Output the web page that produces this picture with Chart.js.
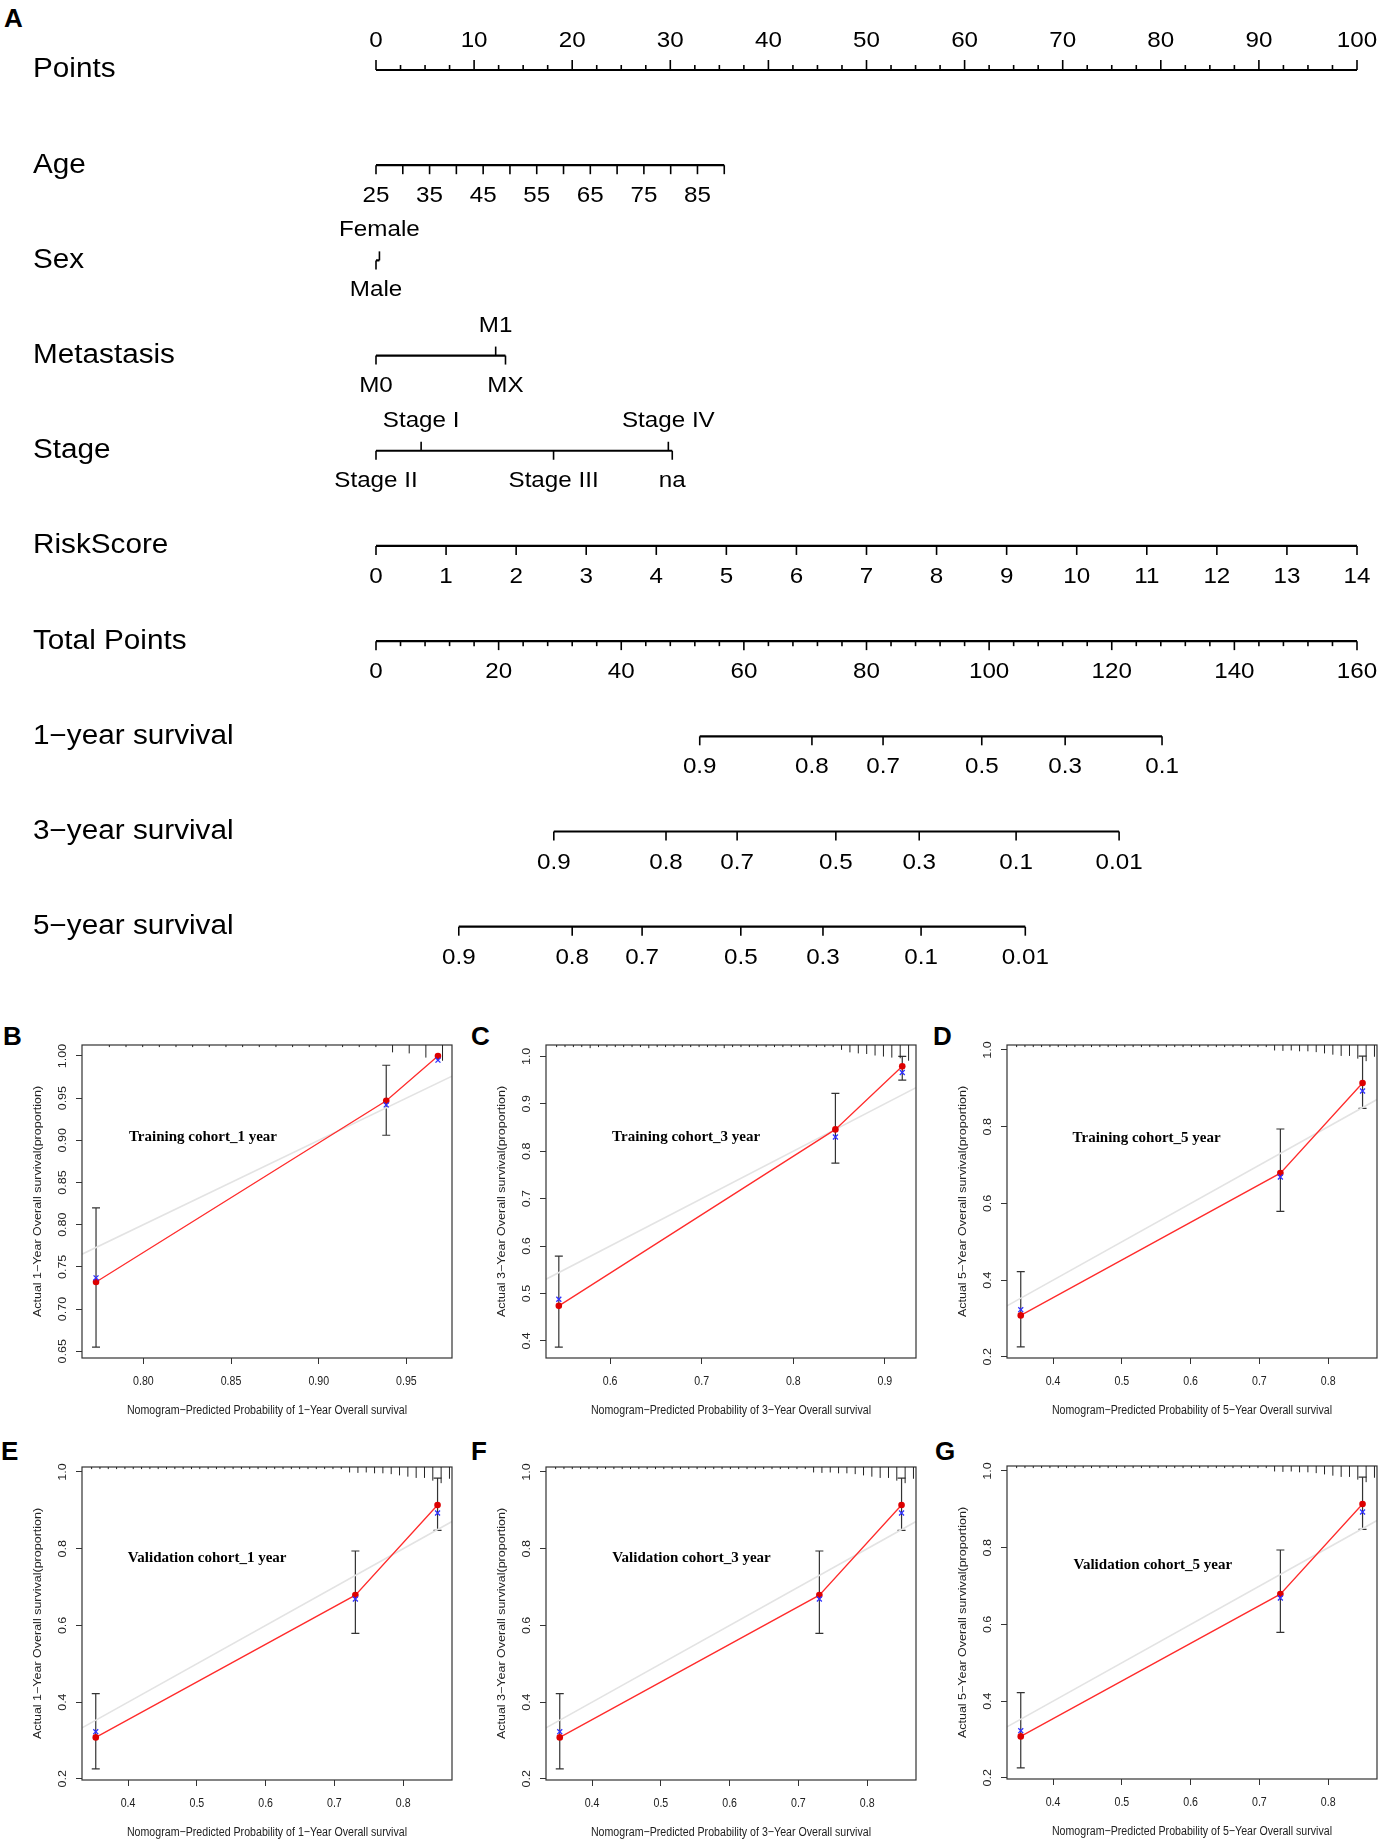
<!DOCTYPE html>
<html>
<head>
<meta charset="utf-8">
<script src="https://cdn.jsdelivr.net/npm/chart.js@4.4.1/dist/chart.umd.min.js"></script>
<style>
html, body { margin: 0; padding: 0; background: #fff; width: 1384px; height: 1845px; overflow: hidden; position: relative; }
canvas { position: absolute; }
.tag { position: absolute; font-family: "Liberation Sans", Arial, sans-serif; font-weight: bold; font-size: 26px; line-height: 26px; color: #000; }
</style>
</head>
<body>
<div class="tag" style="left:4px;top:5px">A</div>
<div class="tag" style="left:3px;top:1023px">B</div>
<div class="tag" style="left:471px;top:1023px">C</div>
<div class="tag" style="left:933px;top:1023px">D</div>
<div class="tag" style="left:1px;top:1438px">E</div>
<div class="tag" style="left:471px;top:1438px">F</div>
<div class="tag" style="left:935px;top:1438px">G</div>

<script>
const SANS = '"Liberation Sans", Arial, sans-serif';
const SERIF = '"Liberation Serif", "Times New Roman", serif';

// ---------- A: nomogram ----------
const rowNames = ['Points', 'Age', 'Sex', 'Metastasis', 'Stage', 'RiskScore', 'Total Points',
  '1\u2212year survival', '3\u2212year survival', '5\u2212year survival'];

const pointLabels = [0, 10, 20, 30, 40, 50, 60, 70, 80, 90, 100];

const ageLabels = [25, 35, 45, 55, 65, 75, 85];
const ageEnds = [25, 90];
const ageEndPoints = [0, 35.5];

const sexLevels = ['Female', 'Male'];
const sexPoints = [0.35, 0];

const metLevels = ['M0', 'M1', 'MX'];
const metPoints = [0, 12.2, 13.2];

const stageLevels = ['Stage II', 'Stage I', 'Stage III', 'Stage IV', 'na'];
const stagePoints = [0, 4.6, 18.1, 29.8, 30.2];

const riskLabels = [0, 1, 2, 3, 4, 5, 6, 7, 8, 9, 10, 11, 12, 13, 14];
const riskMaxPoints = 100;

const totalLabels = [0, 20, 40, 60, 80, 100, 120, 140, 160];

const surv1Labels = ['0.9', '0.8', '0.7', '0.5', '0.3', '0.1'];
const surv1Total = [52.8, 71.1, 82.7, 98.8, 112.4, 128.2];
const surv3Labels = ['0.9', '0.8', '0.7', '0.5', '0.3', '0.1', '0.01'];
const surv3Total = [29.0, 47.3, 58.9, 75.0, 88.6, 104.4, 121.2];
const surv5Labels = ['0.9', '0.8', '0.7', '0.5', '0.3', '0.1', '0.01'];
const surv5Total = [13.5, 32.0, 43.4, 59.5, 72.9, 88.9, 105.9];

// levels written above their axis
const aboveLabels = ['Female', 'M1', 'Stage I', 'Stage IV'];

// ---------- B-G: calibration curves ----------
// B training cohort, 1 year
const predB = [0.773, 0.9385, 0.968];
const obsB = [0.732, 0.947, 1.000];
const corrB = [0.737, 0.942, 0.995];
const loB = [0.655, 0.906, 1.000];
const hiB = [0.820, 0.989, 1.000];
const rugB = [1, 1, 1, 1, 1, 1, 1, 1, 1, 1, 1, 1, 1, 1, 1, 1, 1, 3.5, 4, 6, 7.5];

// C training cohort, 3 year
const predC = [0.544, 0.846, 0.919];
const obsC = [0.474, 0.846, 0.979];
const corrC = [0.488, 0.830, 0.966];
const loC = [0.387, 0.775, 0.950];
const hiC = [0.579, 0.922, 1.000];
const rugC = [1, 1, 1, 1, 1.5, 1, 1, 1, 1, 1, 1, 1.5, 1, 1, 1, 1, 1, 1, 1, 1, 1.5, 1, 1, 1, 1, 1, 1, 1, 1, 1, 1, 1, 1, 1,
  2.3, 3.5, 4, 4.3, 5, 5.5, 6, 6.3, 7.5];

// D training 5 year (E, F, G show the same curve)
const predD = [0.353, 0.7305, 0.850];
const obsD = [0.308, 0.679, 0.914];
const corrD = [0.323, 0.669, 0.893];
const loD = [0.226, 0.579, 0.848];
const hiD = [0.422, 0.794, 0.984];
const rugD = [1, 1, 1, 1, 1, 1, 1, 1, 1, 1, 1, 1, 1, 1, 1, 1, 1, 1, 1, 1, 1, 1, 1, 1, 1, 1, 1, 1, 1, 1, 1,
  2.6, 2.8, 2.6, 3, 3, 3.4, 4, 4.6, 5.2, 5.2, 6.5, 7.7, 5.6];

// text with a horizontal stretch, the source figure is not drawn at 1:1 aspect
function say(ctx, s, x, y, sx, rot) {
  ctx.save();
  ctx.translate(x, y);
  ctx.scale(sx || 1, 1);
  if (rot) ctx.rotate(rot);
  ctx.fillText(s, 0, 0);
  ctx.restore();
}
function mark(ctx, x, y, len) { ctx.beginPath(); ctx.moveTo(x, y); ctx.lineTo(x, y + len); ctx.stroke(); }

function ageToPts(a) {
  return ageEndPoints[0] + (a - ageEnds[0]) * (ageEndPoints[1] - ageEndPoints[0]) / (ageEnds[1] - ageEnds[0]);
}

const NX = 1.1;  // nomogram text stretch

const nomoPlugin = {
  id: 'nomo',
  afterDatasetsDraw(chart) {
    const ctx = chart.ctx, X = chart.scales.x, XT = chart.scales.xt, Y = chart.scales.y;
    const py = i => Y.getPixelForValue(i);
    ctx.save();
    ctx.strokeStyle = '#000'; ctx.fillStyle = '#000'; ctx.lineWidth = 1.6; ctx.textBaseline = 'middle';
    ctx.font = '27px ' + SANS; ctx.textAlign = 'left';
    rowNames.forEach((n, i) => say(ctx, n, 33, py(i), NX));
    ctx.font = '22px ' + SANS; ctx.textAlign = 'center';

    for (let v = 0; v <= 100; v += 2.5) mark(ctx, X.getPixelForValue(v), py(0), v % 10 === 0 ? -10 : -5);
    pointLabels.forEach(v => say(ctx, String(v), X.getPixelForValue(v), py(0) - 29, NX));

    for (let a = ageEnds[0]; a <= ageEnds[1]; a += 5) mark(ctx, X.getPixelForValue(ageToPts(a)), py(1), 9);
    ageLabels.forEach(a => say(ctx, String(a), X.getPixelForValue(ageToPts(a)), py(1) + 31, NX));

    [[2, sexLevels, sexPoints], [3, metLevels, metPoints], [4, stageLevels, stagePoints]].forEach(([row, levels, pts]) => {
      levels.forEach((lv, k) => {
        const up = aboveLabels.includes(lv);
        const px = X.getPixelForValue(pts[k]);
        mark(ctx, px, py(row), up ? -9 : 9);
        say(ctx, lv, px, py(row) + (up ? -30 : 30), NX);
      });
    });

    const rMax = riskLabels[riskLabels.length - 1];
    riskLabels.forEach(r => {
      const px = X.getPixelForValue(r * riskMaxPoints / rMax);
      mark(ctx, px, py(5), 9);
      say(ctx, String(r), px, py(5) + 31, NX);
    });

    for (let v = 0; v <= 160; v += 4) mark(ctx, XT.getPixelForValue(v), py(6), v % 20 === 0 ? 9 : 5);
    totalLabels.forEach(v => say(ctx, String(v), XT.getPixelForValue(v), py(6) + 31, NX));

    [[7, surv1Labels, surv1Total], [8, surv3Labels, surv3Total], [9, surv5Labels, surv5Total]].forEach(([row, labs, tot]) => {
      labs.forEach((l, k) => {
        const px = XT.getPixelForValue(tot[k]);
        mark(ctx, px, py(row), 9);
        say(ctx, l, px, py(row) + 31, NX);
      });
    });
    ctx.restore();
  }
};

function axisLine(row, axis, from, to) {
  return { data: [{ x: from, y: row }, { x: to, y: row }], xAxisID: axis, borderColor: '#000', borderWidth: 2.2,
    pointRadius: 0, clip: false, fill: false };
}

function makeCanvas(id, left, top, w, h) {
  const c = document.createElement('canvas');
  c.id = id; c.width = w; c.height = h;
  c.style.left = left + 'px'; c.style.top = top + 'px';
  document.body.appendChild(c);
  return c;
}

new Chart(makeCanvas('nomo', 0, 0, 1384, 990), {
  type: 'line',
  data: {
    datasets: [
      axisLine(0, 'x', 0, 100),
      axisLine(1, 'x', ageEndPoints[0], ageEndPoints[1]),
      axisLine(2, 'x', 0, Math.max(...sexPoints)),
      axisLine(3, 'x', 0, Math.max(...metPoints)),
      axisLine(4, 'x', 0, Math.max(...stagePoints)),
      axisLine(5, 'x', 0, riskMaxPoints),
      axisLine(6, 'xt', 0, totalLabels[totalLabels.length - 1]),
      axisLine(7, 'xt', Math.min(...surv1Total), Math.max(...surv1Total)),
      axisLine(8, 'xt', Math.min(...surv3Total), Math.max(...surv3Total)),
      axisLine(9, 'xt', Math.min(...surv5Total), Math.max(...surv5Total))
    ]
  },
  options: {
    responsive: false, animation: false, events: [],
    layout: { padding: { left: 376, right: 27, top: 70, bottom: 63.3 } },
    plugins: { legend: { display: false }, tooltip: { enabled: false } },
    scales: {
      x: { type: 'linear', min: 0, max: 100, display: false },
      xt: { type: 'linear', min: 0, max: 160, display: false },
      y: { type: 'linear', min: 0, max: 9, reverse: true, display: false }
    }
  },
  plugins: [nomoPlugin]
});

const CX = 0.85;  // calibration panel text stretch

function calPanel(id, boxLeft, boxTop, p) {
  const left = boxLeft - 82, top = boxTop - 25;
  const w = Math.min(462, 1384 - left), h = 420;
  const el = makeCanvas(id, left, top, w, h);
  const xy = ys => p.pred.map((x, i) => ({ x: x, y: ys[i] }));
  const gridOpt = { display: true, drawOnChartArea: false, drawTicks: true, tickLength: 6, color: '#333', lineWidth: 1 };
  const plug = {
    id: 'cal_' + id,
    beforeDatasetsDraw(chart) {
      const ctx = chart.ctx, X = chart.scales.x, Y = chart.scales.y;
      ctx.save();
      ctx.strokeStyle = '#333'; ctx.lineWidth = 1.2;
      p.pred.forEach((x, i) => {
        const px = X.getPixelForValue(x), a = Y.getPixelForValue(p.lo[i]), b = Y.getPixelForValue(p.hi[i]);
        if (Math.abs(a - b) < 1) return;
        ctx.beginPath();
        ctx.moveTo(px, a); ctx.lineTo(px, b);
        ctx.moveTo(px - 4, a); ctx.lineTo(px + 4, a);
        ctx.moveTo(px - 4, b); ctx.lineTo(px + 4, b);
        ctx.stroke();
      });
      ctx.restore();
    },
    afterDraw(chart) {
      const ctx = chart.ctx, X = chart.scales.x, Y = chart.scales.y, ca = chart.chartArea;
      ctx.save();
      ctx.strokeStyle = '#333'; ctx.lineWidth = 1.2;
      ctx.strokeRect(ca.left, ca.top, ca.right - ca.left, ca.bottom - ca.top);
      ctx.lineWidth = 1; ctx.strokeStyle = '#222';
      p.rug.forEach((n, i) => {
        const px = X.getPixelForValue(p.rugStart + i * p.rugStep);
        if (px < ca.left || px > ca.right) return;
        mark(ctx, px, ca.top, n * 2.1);
      });
      ctx.fillStyle = '#222'; ctx.font = '12.5px ' + SANS; ctx.textBaseline = 'middle'; ctx.textAlign = 'center';
      X.ticks.forEach(t => say(ctx, t.value.toFixed(p.xDec), X.getPixelForValue(t.value), ca.bottom + 24, CX));
      Y.ticks.forEach(t => say(ctx, t.value.toFixed(p.yDec), ca.left - 19, Y.getPixelForValue(t.value), CX, -Math.PI / 2));
      say(ctx, p.xTitle, (ca.left + ca.right) / 2, ca.bottom + 53, CX);
      say(ctx, p.yTitle, ca.left - 44, (ca.top + ca.bottom) / 2, CX, -Math.PI / 2);
      ctx.fillStyle = '#000'; ctx.font = 'bold 15px ' + SERIF;
      say(ctx, p.note, X.getPixelForValue(p.noteAt[0]), Y.getPixelForValue(p.noteAt[1]));
      ctx.restore();
    }
  };
  return new Chart(el, {
    type: 'scatter',
    data: {
      datasets: [
        { data: xy(p.corr), pointStyle: 'crossRot', pointRadius: 3.5, borderColor: '#3030ff', backgroundColor: '#3030ff', borderWidth: 1.3, order: 0 },
        { data: xy(p.obs), pointStyle: 'circle', pointRadius: 3.3, borderColor: '#dd0000', backgroundColor: '#dd0000', borderWidth: 0, order: 1 },
        { type: 'line', data: xy(p.obs), borderColor: '#ff2b2b', borderWidth: 1.3, pointRadius: 0, fill: false, order: 2 },
        { type: 'line', data: [{ x: p.xr[0], y: p.xr[0] }, { x: p.xr[1], y: p.xr[1] }], borderColor: '#e3e3e3', borderWidth: 1.6, pointRadius: 0, fill: false, order: 3 }
      ]
    },
    options: {
      responsive: false, animation: false, events: [],
      layout: { padding: { left: 0, top: 25, right: w - 452, bottom: 0 }, autoPadding: false },
      plugins: { legend: { display: false }, tooltip: { enabled: false } },
      scales: {
        x: {
          type: 'linear', min: p.xr[0], max: p.xr[1],
          afterFit(s) { s.height = 82; },
          grid: gridOpt, border: { display: false },
          ticks: { stepSize: p.xStep, includeBounds: false, autoSkip: false, maxRotation: 0, minRotation: 0, color: 'rgba(0,0,0,0)' }
        },
        y: {
          type: 'linear', min: p.yr[0], max: p.yr[1],
          afterFit(s) { s.width = 82; },
          grid: gridOpt, border: { display: false },
          ticks: { stepSize: p.yStep, includeBounds: false, autoSkip: false, color: 'rgba(0,0,0,0)' }
        }
      }
    },
    plugins: [plug]
  });
}

function xTitle(y) { return 'Nomogram\u2212Predicted Probability of ' + y + '\u2212Year Overall survival'; }
function yTitle(y) { return 'Actual ' + y + '\u2212Year Overall survival(proportion)'; }

const setB = { pred: predB, obs: obsB, corr: corrB, lo: loB, hi: hiB, rug: rugB, rugStart: 0.7806, rugStep: 0.0095,
  xr: [0.765, 0.976], yr: [0.642, 1.013], xStep: 0.05, yStep: 0.05, xDec: 2, yDec: 2 };
const setC = { pred: predC, obs: obsC, corr: corrC, lo: loC, hi: hiC, rug: rugC, rugStart: 0.5416, rugStep: 0.00915,
  xr: [0.530, 0.934], yr: [0.364, 1.024], xStep: 0.1, yStep: 0.1, xDec: 1, yDec: 1 };
const setD = { pred: predD, obs: obsD, corr: corrD, lo: loD, hi: hiD, rug: rugD, rugStart: 0.347, rugStep: 0.0121,
  xr: [0.333, 0.871], yr: [0.197, 1.013], xStep: 0.1, yStep: 0.2, xDec: 1, yDec: 1 };

calPanel('cB', 82, 1045, Object.assign({}, setB, { xTitle: xTitle(1), yTitle: yTitle(1), note: 'Training cohort_1 year', noteAt: [0.834, 0.904] }));
calPanel('cC', 546, 1045, Object.assign({}, setC, { xTitle: xTitle(3), yTitle: yTitle(3), note: 'Training cohort_3 year', noteAt: [0.683, 0.829] }));
calPanel('cD', 1007, 1045, Object.assign({}, setD, { xTitle: xTitle(5), yTitle: yTitle(5), note: 'Training cohort_5 year', noteAt: [0.536, 0.771] }));
calPanel('cE', 82, 1467, Object.assign({}, setD, { xTitle: xTitle(1), yTitle: yTitle(1), note: 'Validation cohort_1 year', noteAt: [0.515, 0.775] }));
calPanel('cF', 546, 1467, Object.assign({}, setD, { xTitle: xTitle(3), yTitle: yTitle(3), note: 'Validation cohort_3 year', noteAt: [0.5445, 0.775] }));
calPanel('cG', 1007, 1466, Object.assign({}, setD, { xTitle: xTitle(5), yTitle: yTitle(5), note: 'Validation cohort_5 year', noteAt: [0.545, 0.755] }));
</script>
</body>
</html>
